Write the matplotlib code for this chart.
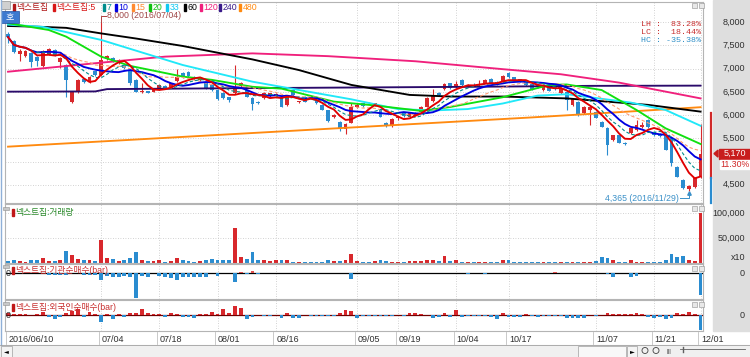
import numpy as np
import pandas as pd
import matplotlib
matplotlib.use('Agg')
import matplotlib.pyplot as plt
from matplotlib.patches import Rectangle, Polygon
import matplotlib.transforms as mtrans

plt.rcParams['font.family'] = ['Liberation Sans', 'Noto Sans CJK KR', 'DejaVu Sans']

# ---------------- data ----------------
tick_index = [0, 16, 26, 36, 46, 60, 67, 77, 86, 101, 111, 119]
tick_labels = ['2016/06/10', '07/04', '07/18', '08/01', '08/16', '09/05', '09/19',
               '10/04', '10/17', '11/07', '11/21', '12/01']

opens = [7750, 7600, 7320, 7270, 7340, 7250, 7060, 7320, 7400, 7150,
         7080, 6290, 6500, 6780, 6720, 6940, 6870, 7200, 7230, 7130,
         7080, 6970, 6760, 6500, 6510, 6500, 6560, 6620, 6610, 6735,
         6900, 6930, 6830, 6750, 6690, 6650, 6540, 6475, 6390, 6480,
         6620, 6540, 6370, 6280, 6370, 6410, 6430, 6400, 6220, 6540,
         6280, 6400, 6380, 6330, 6220, 6110, 5960, 5860, 5690, 5830,
         6170, 6250, 6270, 6220, 6110, 5830, 5760, 5930, 6040, 5950,
         5980, 6065, 6180, 6300, 6470, 6560, 6690, 6600, 6750, 6620,
         6680, 6640, 6700, 6780, 6720, 6720, 6910, 6820, 6770, 6730,
         6660, 6640, 6540, 6650, 6660, 6475, 6500, 6220, 6290, 6045,
         6120, 6065, 5860, 5720, 5460, 5570, 5400, 5610, 5680, 5740,
         5895, 5640, 5600, 5570, 5500, 4890, 4600, 4400, 4440, 4660]
highs = [7800, 7620, 7420, 7400, 7360, 7270, 7400, 7440, 7420, 7250,
         7100, 6520, 6780, 6800, 6850, 6960, 8000, 7300, 7250, 7200,
         7100, 6990, 6770, 6700, 6530, 6580, 6660, 6640, 6700, 7000,
         6920, 6950, 6840, 6800, 6700, 6660, 6560, 6490, 6400, 7080,
         6720, 6550, 6380, 6300, 6490, 6480, 6470, 6410, 6410, 6560,
         6310, 6410, 6390, 6340, 6230, 6120, 6020, 5880, 5830, 6250,
         6260, 6270, 6290, 6270, 6130, 5850, 5930, 5980, 6060, 6060,
         6070, 6190, 6380, 6560, 6490, 6690, 6700, 6740, 6770, 6670,
         6700, 6760, 6770, 6800, 6730, 6860, 6930, 6830, 6780, 6740,
         6670, 6650, 6670, 6660, 6670, 6600, 6510, 6360, 6300, 6190,
         6190, 6080, 5870, 5740, 5580, 5580, 5420, 5730, 5900, 5850,
         5910, 5650, 5610, 5580, 5510, 4900, 4620, 4500, 4660, 5800]
lows = [7560, 7330, 7160, 7250, 7040, 7050, 7040, 7300, 7280, 7010,
        6400, 6270, 6480, 6700, 6700, 6850, 6850, 7180, 7150, 7110,
        7000, 6650, 6490, 6480, 6470, 6490, 6540, 6560, 6600, 6720,
        6800, 6830, 6750, 6740, 6570, 6520, 6330, 6350, 6280, 6460,
        6600, 6380, 6110, 6240, 6350, 6400, 6420, 6170, 6200, 6420,
        6270, 6280, 6350, 6240, 6100, 5850, 5940, 5660, 5600, 5820,
        6150, 6180, 6240, 6200, 5950, 5740, 5740, 5900, 5950, 5930,
        5970, 6050, 6170, 6290, 6420, 6540, 6570, 6590, 6630, 6610,
        6650, 6630, 6690, 6690, 6640, 6710, 6810, 6730, 6710, 6620,
        6550, 6590, 6530, 6510, 6550, 6460, 6120, 6200, 5990, 6030,
        5790, 5930, 5740, 5140, 5440, 5390, 5350, 5590, 5660, 5720,
        5730, 5560, 5530, 5240, 4900, 4660, 4400, 4365, 4430, 4640]
closes = [7680, 7350, 7390, 7380, 7150, 7160, 7390, 7420, 7300, 7230,
          6760, 6500, 6760, 6720, 6830, 6870, 7190, 7280, 7170, 7180,
          7020, 6690, 6500, 6530, 6480, 6560, 6640, 6580, 6690, 6830,
          6820, 6850, 6770, 6790, 6590, 6550, 6350, 6370, 6330, 6590,
          6700, 6390, 6240, 6260, 6475, 6470, 6460, 6180, 6400, 6430,
          6300, 6290, 6360, 6250, 6110, 5880, 6000, 5690, 5800, 6170,
          6210, 6200, 6250, 6250, 5965, 5760, 5915, 5960, 5970, 6040,
          6050, 6175, 6360, 6420, 6440, 6670, 6590, 6660, 6640, 6650,
          6660, 6680, 6750, 6700, 6650, 6845, 6820, 6740, 6720, 6640,
          6560, 6600, 6650, 6520, 6560, 6585, 6330, 6350, 6000, 6175,
          6170, 5940, 5750, 5355, 5570, 5400, 5380, 5720, 5787, 5790,
          5745, 5570, 5540, 5250, 4970, 4670, 4420, 4480, 4645, 5170]

volume = [4000, 6700, 4000, 2000, 5300, 5300, 10000, 4700, 4700, 6700,
          23300, 15300, 7300, 5300, 5300, 3300, 45300, 10000, 7300, 4700,
          6700, 10000, 22000, 6700, 3300, 3300, 5300, 2000, 4700, 10700,
          5300, 3300, 2700, 4000, 5300, 7300, 6700, 5300, 6700, 70000,
          11300, 8700, 22000, 6700, 5300, 3300, 5300, 5300, 6700, 2700,
          2700, 2700, 2000, 2000, 2000, 5300, 4000, 4000, 6700, 18700,
          4000, 2000, 2000, 3300, 5300, 3300, 2000, 2000, 2000, 3300,
          3300, 3300, 5300, 6700, 4700, 13300, 3300, 6700, 2000, 2700,
          2000, 2000, 2700, 2700, 2700, 6000, 5300, 2000, 2700, 1300,
          1300, 1300, 2700, 2000, 1300, 2000, 2000, 2000, 1300, 2000,
          1300, 3300, 12000, 10000, 5300, 2000, 2000, 5300, 2700, 2000,
          2000, 2000, 2000, 5300, 18700, 12000, 13300, 5300, 3300, 100000]

inst_net = [0, 0, 0, 0, 0, 0, 0, -1.5, -2, -2,
            -2, 0, 0, -2, -2, -2, -6.5, -3, -4, -4,
            -3, -4, -25, -3, -4, 0, -3, -4, -5, -7,
            -4, -4, -4, -4, -4, 0, -3, 0, 0, -9,
            0.7, -1.3, 2, -1.3, 0, 0, 0, 0, 0, 0,
            0, 0, 0, 0, 0, 0, 0, 0, 0, -5.5,
            0.5, 0.5, 0.5, 0.5, 0.5, 0.5, 0.5, 0, 0, 0,
            0, 0, 0, 0, 0, 0, 0.5, 0, 0, -1.3,
            0, 0.5, -1.3, 0.5, 0.5, 0.5, 0, 0, 0.5, 0.5,
            0.5, 0.5, 0.5, 0.5, 1.3, 0.5, 0.5, 0.5, 0, 0.5,
            0, 0, 0, -1.3, -4, 0, 0, -4, -3, 0,
            0, 0, 0, 0, 0, 0, 0, 0, 0, -22]

foreign_net = [1.7, 1, 0.7, 0.7, 0.3, 1, 2.7, -1.7, -3.7, -1.7,
               2.3, 4, 6, -1.7, 3.3, 0.7, -6.7, 1.3, -4.3, 1,
               -1.7, 1.7, 2.3, 5.7, 1.7, 0.7, 1, -2.3, 1.7, 1,
               -1.7, -2.3, -3.3, 0.7, 0.7, 2.7, 0.7, 5.7, 2.3, 9,
               6.7, -3.7, -2.3, 0.3, -1, -1, 0.3, -3.3, 1.7, -3.3,
               -3, 0.3, -0.7, -0.7, -0.7, -0.7, -0.7, 1.7, 5, 4,
               -2.7, -1, -1, -1, -1, -1, -1, 0.3, -0.7, 1.7,
               2.3, 0.7, 0.3, -3.3, -2.3, 1.7, -2.3, 5, -1.7, -1,
               -1, -1, -1, -2.3, -3.7, 1.7, -1.7, -1.7, -1.7, 0.7,
               -0.7, -1.7, -0.7, -1, -1, -0.7, -2.7, -2.7, -2.7, -2.7,
               -0.3, -1, 0.3, 1.7, 0.7, 0.7, 0.7, 0.7, 2.3, 0.7,
               -1.7, -2.7, -1.7, -4, -2.7, 1.7, 0.7, 3.3, 0.7, -15]

# longer moving averages (index, value)
ma20_idx = [0, 7, 10, 16, 21, 30, 35, 42, 47, 56, 62, 67, 71, 76, 85, 93, 96, 102, 108, 113, 119]
ma20_val = [7980, 7834, 7690, 7260, 7060, 6830, 6760, 6610, 6570, 6290, 6220, 6150, 6090, 6175,
            6385, 6650, 6660, 6540, 6110, 5715, 5377]
ma33_idx = [0, 6, 16, 30, 42, 59, 67, 73, 79, 85, 91, 96, 107, 113, 119]
ma33_val = [7950, 7900, 7620, 7080, 6720, 6340, 6130, 6100, 6130, 6250, 6420, 6450, 6270, 6110, 5770]
ma60_idx = [0, 5, 10, 16, 22, 30, 42, 50, 59, 69, 76, 85, 96, 110, 119]
ma60_val = [7920, 7905, 7880, 7760, 7650, 7490, 7200, 6970, 6650, 6435, 6400, 6400, 6360, 6220, 6075]
ma120_idx = [0, 16, 27, 42, 55, 70, 85, 95, 105, 119]
ma120_val = [6935, 7130, 7260, 7330, 7270, 7160, 6990, 6880, 6700, 6360]
ma240_idx = [0, 15, 17, 40, 60, 80, 100, 119]
ma240_val = [6505, 6510, 6560, 6580, 6595, 6610, 6630, 6635]
ma480_idx = [0, 30, 60, 90, 119]
ma480_val = [5320, 5530, 5740, 5950, 6170]

prev_close = 4645
last_close = 5170
chg_pct = '11.30%'
period_high, period_high_date = 8000, '2016/07/04'
period_low, period_low_date = 4365, '2016/11/29'

# ---------------- colours ----------------
UP = '#d8282c'
DN = '#2a8cd0'
C5, C7, C10, C15, C20, C33 = '#e00000', '#008c8c', '#0000e0', '#ff9a70', '#10e010', '#20e8f8'
C60, C120, C240, C480 = '#000000', '#f0207c', '#2a0a6a', '#ff8a10'

W, H = 750, 357
fig = plt.figure(figsize=(7.5, 3.57), dpi=100)


def box(x0, y0, x1, y1):
    return [x0 / W, 1 - y1 / H, (x1 - x0) / W, (y1 - y0) / H]


bg = fig.add_axes([0, 0, 1, 1], zorder=-5)
bg.set_xlim(0, W); bg.set_ylim(H, 0); bg.axis('off')
bg.add_patch(Rectangle((713, 0), 37, 331, color='#dedede'))
bg.add_patch(Rectangle((0, 345), 750, 12, color='#f0f0f0'))

axp = fig.add_axes(box(5, 2, 703, 203))
axv = fig.add_axes(box(5, 204, 703, 263))
axi = fig.add_axes(box(5, 264, 703, 299))
axf = fig.add_axes(box(5, 300, 703, 331))

n = len(closes)
xs = np.arange(n)
XL = (-0.52, 119.42)
for a in (axp, axv, axi, axf):
    a.set_xlim(*XL)
    a.set_xticks([]); a.set_yticks([])
    for sp in a.spines.values():
        sp.set_color('#b4b4b4'); sp.set_linewidth(0.8)
    for t in tick_index[1:]:
        a.axvline(t, color='#c4c4c4', lw=0.6, ls=(0, (1, 2)), zorder=0)

axp.set_ylim(4106, 8437)
axv.set_ylim(0, 118000)
axi.set_ylim(-26, 9)
axf.set_ylim(-16, 15)

for lv in range(4500, 8001, 500):
    axp.axhline(lv, color='#c4c4c4', lw=0.6, ls=(0, (1, 2)), zorder=0)
for lv in (50000, 100000):
    axv.axhline(lv, color='#c4c4c4', lw=0.6, ls=(0, (1, 2)), zorder=0)

# candles
o = np.array(opens, float); c = np.array(closes, float)
hi = np.array(highs, float); lo = np.array(lows, float)
up = c >= o
cols = np.where(up, UP, DN)
axp.vlines(xs, lo, hi, colors=cols, lw=0.8, zorder=2)
body_b = np.minimum(o, c)
body_h = np.maximum(np.abs(c - o), 12)
axp.bar(xs, body_h, bottom=body_b, width=0.66, color=cols, zorder=2, linewidth=0)

# moving averages
s = pd.Series(c)
ma5 = s.rolling(5, min_periods=1).mean()
ma7 = s.rolling(7, min_periods=1).mean()
ma10 = s.rolling(10, min_periods=1).mean()
ma15 = s.rolling(15, min_periods=1).mean()
lw = 1.35
axp.plot(ma480_idx, ma480_val, color=C480, lw=lw, zorder=3)
axp.plot(ma240_idx, ma240_val, color=C240, lw=lw, zorder=3)
axp.plot(ma120_idx, ma120_val, color=C120, lw=lw, zorder=3)
axp.plot(ma60_idx, ma60_val, color=C60, lw=lw, zorder=3)
axp.plot(ma33_idx, ma33_val, color=C33, lw=lw, zorder=3)
axp.plot(ma20_idx, ma20_val, color=C20, lw=lw, zorder=3)
axp.plot(xs, ma15, color=C15, lw=0.8, ls=(0, (3, 2)), zorder=3)
axp.plot(xs, ma10, color=C10, lw=lw, zorder=3)
axp.plot(xs, ma7, color=C7, lw=0.8, ls=(0, (3, 2)), zorder=3)
axp.plot(xs, ma5, color=C5, lw=lw, zorder=3)

# high / low markers
hi_i = int(np.argmax(hi)); lo_i = int(np.argmin(lo))
axp.plot([hi_i, hi_i, hi_i + 0.9], [period_high, period_high + 140, period_high + 140],
         color='#b04040', lw=0.7, zorder=4)
axp.text(hi_i + 1.0, period_high + 140, f'{period_high:,} ({period_high_date})', fontsize=6.3,
         color='#a04848', va='center', ha='left', zorder=4)
axp.plot([lo_i - 1.6, lo_i, lo_i], [period_low - 160, period_low - 160, period_low - 30],
         color='#3a90c8', lw=0.7, zorder=4)
axp.plot([lo_i], [period_low - 40], marker='^', ms=2.5, color='#3a90c8', zorder=4)
axp.text(lo_i - 1.7, period_low - 160, f'{period_low:,} ({period_low_date})', fontsize=6.3,
         color='#3a90c8', va='center', ha='right', zorder=4)

# daily limit bar at right of price panel
axp.plot([120.8, 120.8], [prev_close, prev_close * 1.3], color='#d02828', lw=1.6,
         clip_on=False, zorder=4)
axp.plot([120.8, 120.8], [4106, prev_close], color='#2a8cd0', lw=1.6, clip_on=False, zorder=4)

# volume
axv.bar(xs, volume, width=0.66, color=cols, linewidth=0, zorder=2)

# institution / foreign net buying
inst = np.array(inst_net, float)
axi.axhline(0, color='black', lw=0.9, zorder=1)
axi.bar(xs, inst, width=0.66, color=np.where(inst >= 0, '#e05050', DN), linewidth=0, zorder=2)
fr = np.array(foreign_net, float)
axf.axhline(0, color='#700000', lw=0.9, zorder=1)
axf.bar(xs, fr, width=0.66, color=np.where(fr >= 0, UP, DN), linewidth=0, zorder=2)

# ---------------- overlay text ----------------
ov = fig.add_axes([0, 0, 1, 1], zorder=10)
ov.set_xlim(0, W); ov.set_ylim(H, 0); ov.axis('off'); ov.patch.set_alpha(0)

FS = 6.5
# right price labels
tp = mtrans.blended_transform_factory(ov.transData, axp.transData)
for lv in range(4500, 8001, 500):
    if lv == 5000:
        continue
    ov.text(745, lv, f'{lv:,}', transform=tp, ha='right', va='center', fontsize=FS, color='#303030')
tv = mtrans.blended_transform_factory(ov.transData, axv.transData)
ov.text(745, 100000, '100,000', transform=tv, ha='right', va='center', fontsize=FS, color='#303030')
ov.text(745, 50000, '50,000', transform=tv, ha='right', va='center', fontsize=FS, color='#303030')
ov.text(745, 257, 'x10', ha='right', va='center', fontsize=FS, color='#303030')
ti = mtrans.blended_transform_factory(ov.transData, axi.transData)
ov.text(745, 0, '0', transform=ti, ha='right', va='center', fontsize=FS, color='#303030')
ov.text(6, 0, '0', transform=ti, ha='left', va='center', fontsize=FS, color='#303030')
tf = mtrans.blended_transform_factory(ov.transData, axf.transData)
ov.text(745, 0, '0', transform=tf, ha='right', va='center', fontsize=FS, color='#303030')
ov.text(6, 0, '0', transform=tf, ha='left', va='center', fontsize=FS, color='#303030')

# current price box
ypc = axp.transData.transform((0, last_close))[1]
ypc = H - ypc
ov.add_patch(Rectangle((719, ypc - 5), 31, 10, color='#c81e1e', zorder=5))
ov.text(734.5, ypc, f'{last_close:,}', ha='center', va='center', fontsize=6.5, color='white', zorder=6)
ov.add_patch(Polygon([[714, ypc], [718, ypc - 3.5], [718, ypc + 3.5]], color='#c81e1e', zorder=5))
ov.add_patch(Rectangle((720, ypc + 6), 30, 9, color='white', zorder=5))
ov.text(735, ypc + 10.5, chg_pct, ha='center', va='center', fontsize=6.3, color='#d02828', zorder=6)

# LH / LC / HC
lh = (period_high / period_low - 1) * 100
lc = (last_close / period_low - 1) * 100
hc = (last_close / period_high - 1) * 100
ov.text(701, 24, f'LH :  {lh:.2f}%', ha='right', va='center', fontsize=6, color='#c83030',
        family=['Liberation Mono', 'DejaVu Sans Mono'])
ov.text(701, 32, f'LC :  {lc:.2f}%', ha='right', va='center', fontsize=6, color='#c83030',
        family=['Liberation Mono', 'DejaVu Sans Mono'])
ov.text(701, 40, f'HC : {hc:.2f}%', ha='right', va='center', fontsize=6, color='#3090c8',
        family=['Liberation Mono', 'DejaVu Sans Mono'])

# top legend
legend_items = [(13, '넥스트칩', '#b01818'), (53, '넥스트칩:5', '#d81818'), (103, '7', C7),
                (115, '10', C10), (132, '15', '#ff8a30'), (149, '20', '#10c010'),
                (166, '33', '#10c8f0'), (184, '60', '#000000'), (200, '120', C120),
                (219, '240', '#3a1a8a'), (239, '480', C480)]
for xp, txt, col in legend_items:
    ov.add_patch(Rectangle((xp, 3.5), 2, 7, color=col))
    ov.text(xp + 3.5, 7.5, txt, ha='left', va='center', fontsize=6.3, color=col)

# top-left icons
ov.add_patch(Rectangle((1, 1), 9, 8, facecolor='#d0d0d0', edgecolor='#909090', lw=0.5))
ov.add_patch(Rectangle((1, 11), 18, 12, facecolor='#3d7ad0', edgecolor='#2050a0', lw=0.5))
ov.text(10, 17, '호', ha='center', va='center', fontsize=6.5, color='white')

# panel legends
for yy, txt, col in [(212, '넥스트칩:거래량', '#2a8a2a'), (270, '넥스트칩:기관순매수(bar)', '#c83030'),
                     (307, '넥스트칩:외국인순매수(bar)', '#c83030')]:
    ov.add_patch(Rectangle((3, yy - 5), 6, 3, facecolor='#c8c8c8', edgecolor='#909090', lw=0.4))
    ov.add_patch(Rectangle((12, yy - 3.5), 1.5, 7, color='#c01818'))
    ov.text(15, yy, txt, ha='left', va='center', fontsize=6.3, color=col)

# panel buttons
for yy in (3, 206, 266, 302):
    for xx in (692, 699):
        ov.add_patch(Rectangle((xx, yy), 5, 5, facecolor='#e8e8e8', edgecolor='#909090', lw=0.4))

# date axis
td = mtrans.blended_transform_factory(axf.transData, ov.transData)
for t, lab in zip(tick_index, tick_labels):
    ov.plot([t - 0.4, t - 0.4], [332, 344], color='#c0c0c0', lw=0.6, transform=td)
    ov.text(t + 0.1, 339, lab, transform=td, ha='left', va='center', fontsize=6.5, color='#303030')

# borders & scrollbar
ov.plot([1, 1], [0, 345], color='#8fb0d8', lw=1.0)
ov.plot([0, 750], [345, 345], color='#a0a0a0', lw=0.6)
ov.add_patch(Rectangle((0.5, 346), 11, 10.5, facecolor='#f4f4f4', edgecolor='#a0a0a0', lw=0.5))
ov.text(6, 351.5, '◄', ha='center', va='center', fontsize=4.5, color='black', family=['DejaVu Sans'])
ov.add_patch(Rectangle((578, 346), 48, 10.5, facecolor='#f8f8f8', edgecolor='#a0a0a0', lw=0.5))
ov.add_patch(Rectangle((627, 346), 10, 10.5, facecolor='#f4f4f4', edgecolor='#a0a0a0', lw=0.5))
ov.text(632, 351.5, '►', ha='center', va='center', fontsize=4.5, color='black', family=['DejaVu Sans'])
for xx in (645, 656):
    ov.add_patch(plt.Circle((xx, 350.5), 3, facecolor='none', edgecolor='#404040', lw=0.6))
ov.text(669, 351, '|||', ha='center', va='center', fontsize=4.5, color='#404040')
ov.plot([680, 745], [349, 349], color='#606060', lw=0.6)
ov.plot([683, 683], [347, 352], color='#606060', lw=1.0)

fig.savefig('out.png', dpi=100)
